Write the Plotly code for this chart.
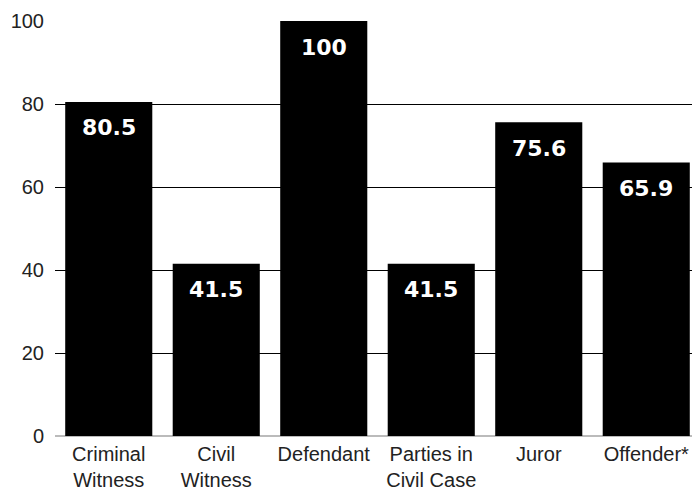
import plotly.graph_objects as go

categories = ["Criminal<br>Witness", "Civil<br>Witness", "Defendant", "Parties in<br>Civil Case", "Juror", "Offender*"]
values = [80.5, 41.5, 100, 41.5, 75.6, 65.9]
tick_vals = [0, 20, 40, 60, 80, 100]

fig = go.Figure(go.Bar(
    x=categories, y=values,
    marker=dict(color="black", line=dict(width=0)),
    hoverinfo="x+y",
))
for c, v in zip(categories, values):
    fig.add_annotation(x=c, y=v, text=f"{v:g}", showarrow=False, yanchor="middle", yshift=-26,
                       font=dict(family="DejaVu Sans", size=22, color="white", weight="bold"))
fig.update_layout(
    width=692, height=483,
    margin=dict(l=47, r=0, t=13, b=55, autoexpand=False),
    plot_bgcolor="white", paper_bgcolor="white",
    bargap=0.19, showlegend=False,
    font=dict(family="Liberation Sans, Arial", size=20, color="#222"),
)
fig.update_yaxes(range=[0, 100], tickvals=tick_vals, showgrid=True, gridcolor="black", gridwidth=1.2,
                 zeroline=True, zerolinecolor="#bbb", zerolinewidth=1.5, ticks="", ticklabelstandoff=10,
                 tickfont=dict(size=20), automargin=False)
fig.update_xaxes(showline=False, ticks="", tickfont=dict(size=20), automargin=False, ticklabelstandoff=4)
fig.write_html("out.html")
